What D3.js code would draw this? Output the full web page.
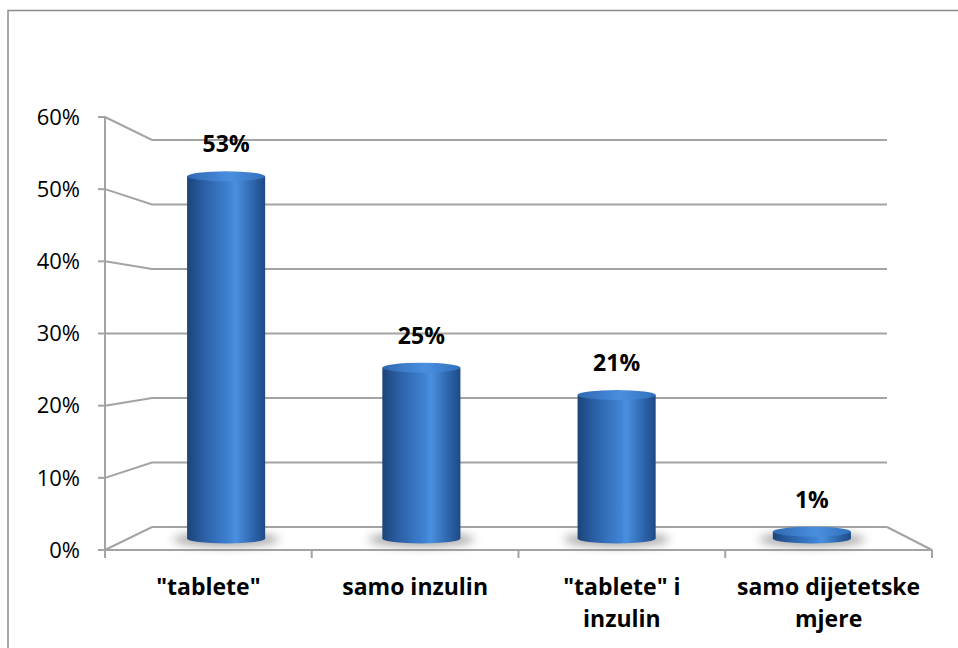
<!DOCTYPE html>
<html>
<head>
<meta charset="utf-8">
<script src="https://cdn.jsdelivr.net/npm/d3@7"></script>
<style>
  html, body { margin: 0; padding: 0; background: #fff; }
  svg { display: block; }
</style>
</head>
<body>
<div id="chart"></div>
<script>
// data
const categories = ['"tablete"', 'samo inzulin', '"tablete" i inzulin', 'samo dijetetske mjere'];
const values = [0.53, 0.25, 0.21, 0.01];
const valueLabels = ['53%', '25%', '21%', '1%'];
const yTicks = [0, 0.1, 0.2, 0.3, 0.4, 0.5, 0.6];

const width = 958, height = 648;
const font = "'Open Sans', Lato, sans-serif";
const gridColor = "#a3a3a3";

// front and back planes of the 3d box
const xFront = d3.scaleLinear().domain([0, 1]).range([105, 932]);
const xBack = d3.scaleLinear().domain([0, 1]).range([152, 887]);
const yFront = d3.scaleLinear().domain([0, 0.6]).range([550, 117]);
const yBack = d3.scaleLinear().domain([0, 0.6]).range([527, 140]);

// depth 0 = front, 1 = back
function proj(u, v, depth) {
    return [
        xFront(u) + (xBack(u) - xFront(u)) * depth,
        yFront(v) + (yBack(v) - yFront(v)) * depth
    ];
}

const band = d3.scaleBand().domain(categories).range([0, 1]).paddingInner(0).paddingOuter(0);

const svg = d3.select("#chart").append("svg")
    .attr("width", width)
    .attr("height", height)
    .attr("font-family", font);

const defs = svg.append("defs");

const sideGrad = defs.append("linearGradient").attr("id", "side")
    .attr("x1", 0).attr("x2", 1).attr("y1", 0).attr("y2", 0);
sideGrad.selectAll("stop")
    .data([[0, "#1c4479"], [0.2, "#2a5ea3"], [0.55, "#3f84d4"], [0.62, "#4a90e0"], [0.85, "#2d64aa"], [1, "#1e4a85"]])
    .join("stop")
    .attr("offset", d => d[0])
    .attr("stop-color", d => d[1]);

const topGrad = defs.append("linearGradient").attr("id", "top")
    .attr("x1", 0).attr("x2", 1).attr("y1", 0).attr("y2", 0);
topGrad.selectAll("stop")
    .data([[0, "#2f68b3"], [0.55, "#4a8fdf"], [1, "#3270bd"]])
    .join("stop")
    .attr("offset", d => d[0])
    .attr("stop-color", d => d[1]);

defs.append("filter").attr("id", "blur")
    .attr("x", "-50%").attr("y", "-200%").attr("width", "200%").attr("height", "500%")
    .append("feGaussianBlur").attr("stdDeviation", 5);

// outer frame
svg.append("rect")
    .attr("x", 8).attr("y", 10.5)
    .attr("width", 1000).attr("height", 1000)
    .attr("fill", "none")
    .attr("stroke", "#8c8c8c")
    .attr("stroke-width", 1.5);

// back wall grid + left wall diagonals
const grid = svg.append("g")
    .attr("stroke", gridColor)
    .attr("stroke-width", 2)
    .attr("fill", "none");

yTicks.forEach(v => {
    const f = proj(0, v, 0), b = proj(0, v, 1), e = proj(1, v, 1);
    grid.append("path").attr("d", d3.line()([f, b, e]));
});

// floor
grid.append("path").attr("d", d3.line()([proj(1, 0, 1), proj(1, 0, 0), proj(0, 0, 0)]));

// front y axis and ticks
grid.append("line")
    .attr("x1", xFront(0)).attr("x2", xFront(0))
    .attr("y1", yFront(0.6)).attr("y2", yFront(0) + 8);
yTicks.forEach(v => {
    grid.append("line")
        .attr("x1", xFront(0) - 7).attr("x2", xFront(0))
        .attr("y1", yFront(v)).attr("y2", yFront(v));
});
// category ticks
d3.range(categories.length + 1).forEach(i => {
    const x = xFront(i / categories.length);
    grid.append("line")
        .attr("x1", x).attr("x2", x)
        .attr("y1", yFront(0)).attr("y2", yFront(0) + 8);
});

// y tick labels
svg.append("g")
    .selectAll("text")
    .data(yTicks)
    .join("text")
    .attr("x", 80)
    .attr("y", d => yFront(d))
    .attr("dy", "0.35em")
    .attr("text-anchor", "end")
    .attr("font-size", 22)
    .attr("fill", "#000")
    .text(d3.format(".0%"));

// cylinders
const ry = 5;
const bars = svg.append("g")
    .selectAll("g")
    .data(categories)
    .join("g");

bars.each(function (c, i) {
    const g = d3.select(this);
    const uC = band(c) + band.bandwidth() / 2;
    const uL = uC - band.bandwidth() * 0.2;
    const uR = uC + band.bandwidth() * 0.2;
    const [xl, y0] = proj(uL, 0, 0.5);
    const [xr] = proj(uR, 0, 0.5);
    const [xc, y1] = proj(uC, values[i], 0.5);
    const rx = (xr - xl) / 2;

    // shadow
    g.append("ellipse")
        .attr("cx", xc).attr("cy", y0 + 1)
        .attr("rx", rx + 14).attr("ry", ry + 2)
        .attr("fill", "#8a8a8a")
        .attr("opacity", 0.75)
        .attr("filter", "url(#blur)");

    // body
    g.append("path")
        .attr("d", `M${xl},${y1} L${xl},${y0} A${rx},${ry} 0 0 0 ${xr},${y0} L${xr},${y1} Z`)
        .attr("fill", "url(#side)");

    // top cap
    g.append("ellipse")
        .attr("cx", xc).attr("cy", y1)
        .attr("rx", rx).attr("ry", ry)
        .attr("fill", "url(#top)");

    // value label
    g.append("text")
        .attr("x", xc)
        .attr("y", y1 - 24)
        .attr("text-anchor", "middle")
        .attr("font-size", 23)
        .attr("font-weight", "bold")
        .attr("fill", "#000")
        .text(valueLabels[i]);
});

// category labels, wrapped
function wrap(text, maxWidth) {
    text.each(function () {
        const t = d3.select(this);
        const words = t.text().split(/\s+/);
        const x = t.attr("x");
        t.text(null);
        let line = [];
        let tspan = t.append("tspan").attr("x", x).attr("dy", 0);
        words.forEach(w => {
            line.push(w);
            tspan.text(line.join(" "));
            if (tspan.node().getComputedTextLength() > maxWidth && line.length > 1) {
                line.pop();
                tspan.text(line.join(" "));
                line = [w];
                tspan = t.append("tspan").attr("x", x).attr("dy", 32).text(w);
            }
        });
    });
}

svg.append("g")
    .selectAll("text")
    .data(categories)
    .join("text")
    .attr("x", d => xFront(band(d) + band.bandwidth() / 2))
    .attr("y", 595)
    .attr("text-anchor", "middle")
    .attr("font-size", 23)
    .attr("font-weight", "bold")
    .attr("fill", "#000")
    .text(d => d)
    .call(wrap, 185);
</script>
</body>
</html>
